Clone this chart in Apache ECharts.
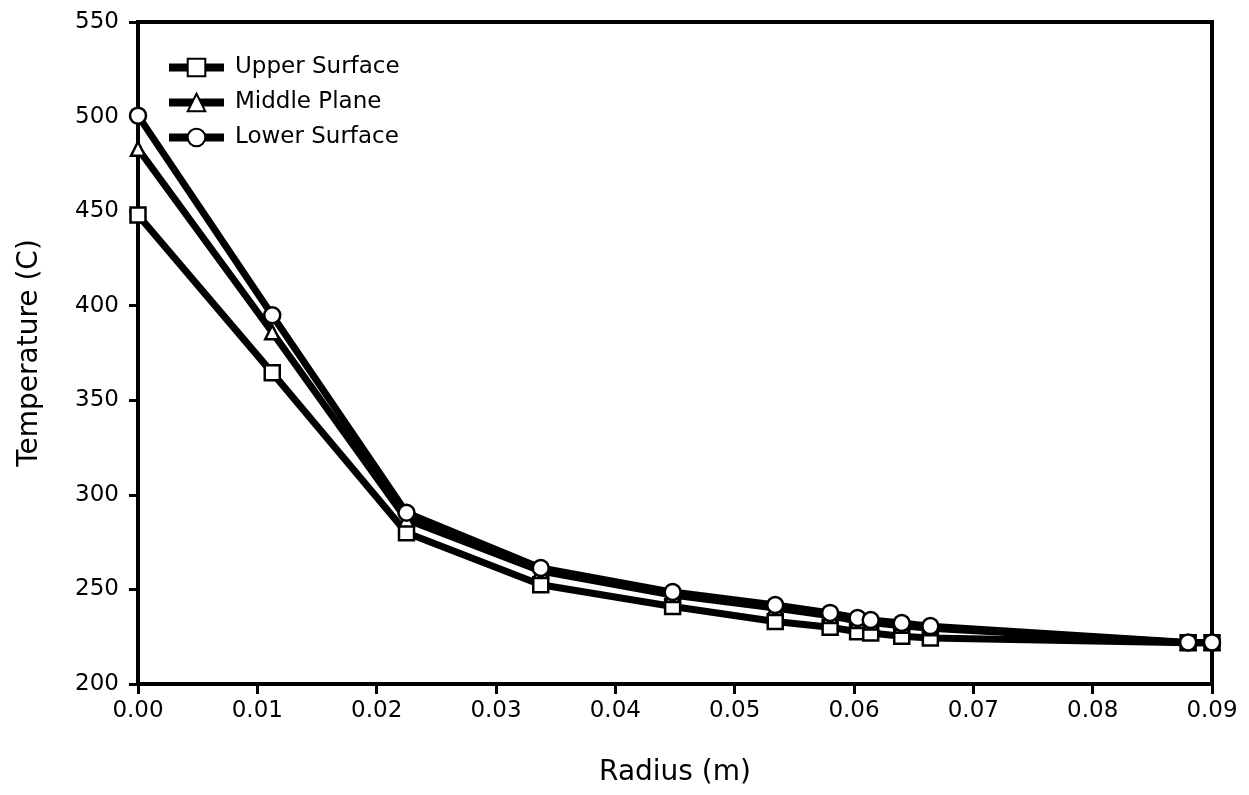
<!DOCTYPE html>
<html>
<head>
<meta charset="utf-8">
<script src="https://cdn.jsdelivr.net/npm/echarts@6/dist/echarts.min.js"></script>
<style>
html,body{margin:0;padding:0;background:#fff;}
#chart{width:1249px;height:795px;}
</style>
</head>
<body>
<div id="chart"></div>
<script>
const radius = [0.0, 0.01125, 0.0225, 0.03375, 0.0448, 0.0534, 0.0580, 0.0603, 0.0614, 0.0640, 0.0664, 0.0880, 0.0900];
const upperSurface = [448, 364.5, 280, 252.5, 241, 233, 230, 227.6, 227, 225.3, 224.3, 221.8, 221.8];
const middlePlane  = [483, 386, 287, 259.7, 247, 240.2, 236, 233.3, 232.5, 230.8, 229.5, 221.8, 221.8];
const lowerSurface = [500.5, 395, 290.5, 261.3, 248.6, 241.8, 237.6, 234.9, 233.8, 232.2, 230.6, 222, 222];
const xTicks = [0, 0.01, 0.02, 0.03, 0.04, 0.05, 0.06, 0.07, 0.08, 0.09];
const yTicks = [200, 250, 300, 350, 400, 450, 500, 550];

const FONT = 'DejaVu Sans';
function pairs(xs, ys){ return xs.map((x,i)=>[x, ys[i]]); }
function mkSeries(name, ys, symbol, size){
  return {
    name: name, type: 'line', data: pairs(radius, ys),
    symbol: symbol, symbolSize: size,
    lineStyle: {color: '#000', width: 7},
    itemStyle: {color: '#fff', borderColor: '#000', borderWidth: 2.5},
    emphasis: {disabled: true},
    animation: false
  };
}
const chart = echarts.init(document.getElementById('chart'), null, {renderer: 'canvas'});
chart.setOption({
  backgroundColor: '#fff',
  animation: false,
  grid: {left: 138, right: 37, top: 22, bottom: 111, show: true, borderColor: '#000', borderWidth: 4, backgroundColor: 'transparent'},
  legend: {
    orient: 'vertical', left: 160, top: 51, itemGap: 12,
    itemWidth: 55, itemHeight: 22,
    lineStyle: {width: 8, color: '#000'},
    textStyle: {fontFamily: FONT, fontSize: 23, color: '#000', padding: [0, 0, 0, 6]},
    data: ['Upper Surface', 'Middle Plane', 'Lower Surface']
  },
  xAxis: {
    type: 'value', min: xTicks[0], max: xTicks[xTicks.length-1], interval: 0.01,
    name: 'Radius (m)', nameLocation: 'middle', nameGap: 75,
    nameTextStyle: {fontFamily: FONT, fontSize: 28, color: '#000'},
    axisLine: {show: true, lineStyle: {color: '#000', width: 4}},
    axisTick: {show: true, inside: false, length: 10, lineStyle: {color: '#000', width: 3}},
    axisLabel: {fontFamily: FONT, fontSize: 23, color: '#000', margin: 16, formatter: v => v.toFixed(2)},
    splitLine: {show: false}
  },
  yAxis: {
    type: 'value', min: yTicks[0], max: yTicks[yTicks.length-1], interval: 50,
    name: 'Temperature (C)', nameLocation: 'middle', nameGap: 94,
    nameTextStyle: {fontFamily: FONT, fontSize: 28, color: '#000'},
    axisLine: {show: true, lineStyle: {color: '#000', width: 4}},
    axisTick: {show: true, inside: false, length: 9, lineStyle: {color: '#000', width: 3}},
    axisLabel: {fontFamily: FONT, fontSize: 23, color: '#000', margin: 19},
    splitLine: {show: false}
  },
  series: [
    mkSeries('Upper Surface', upperSurface, 'rect', 15),
    mkSeries('Middle Plane', middlePlane, 'triangle', 14),
    mkSeries('Lower Surface', lowerSurface, 'circle', 16)
  ]
});
</script>
</body>
</html>
